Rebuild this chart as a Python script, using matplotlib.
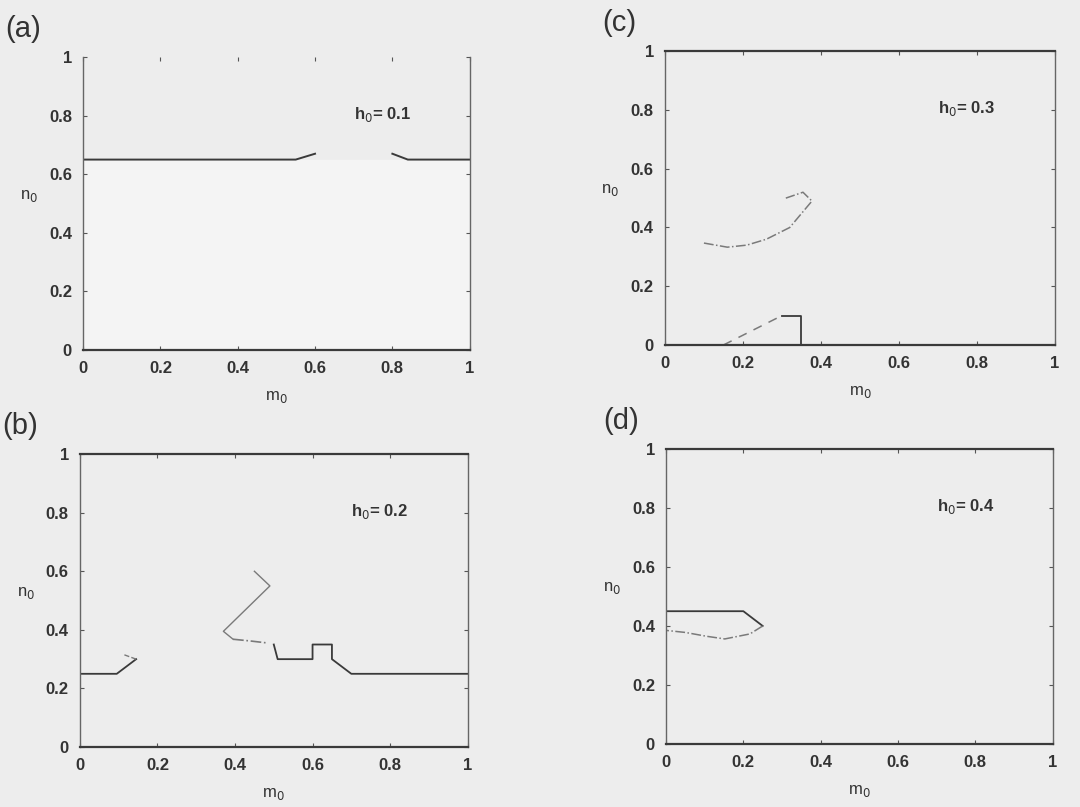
import matplotlib.pyplot as plt

plt.rcParams['font.family'] = ['Liberation Sans', 'DejaVu Sans']

# (a) h0 = 0.1
a_left_m = [0.0, 0.55, 0.60]
a_left_n = [0.65, 0.65, 0.67]
a_right_m = [0.80, 0.84, 1.0]
a_right_n = [0.67, 0.65, 0.65]

# (b) h0 = 0.2
b_left_m = [0.0, 0.095, 0.145]
b_left_n = [0.25, 0.25, 0.30]
b_left_tip_m = [0.145, 0.11]
b_left_tip_n = [0.30, 0.317]
b_zig_m = [0.45, 0.49, 0.37, 0.395]
b_zig_n = [0.60, 0.55, 0.395, 0.368]
b_dash_m = [0.395, 0.44, 0.485]
b_dash_n = [0.368, 0.362, 0.355]
b_step_m = [0.50, 0.51, 0.60, 0.60, 0.65, 0.65, 0.70, 1.0]
b_step_n = [0.35, 0.30, 0.30, 0.35, 0.35, 0.30, 0.25, 0.25]

# (c) h0 = 0.3
c_curve_m = [0.10, 0.16, 0.21, 0.26, 0.32, 0.377, 0.354, 0.31]
c_curve_n = [0.347, 0.333, 0.34, 0.36, 0.40, 0.49, 0.52, 0.50]
c_dash_m = [0.15, 0.30]
c_dash_n = [0.0, 0.10]
c_box_m = [0.30, 0.35, 0.35]
c_box_n = [0.10, 0.10, 0.0]

# (d) h0 = 0.4
d_top_m = [0.0, 0.20, 0.25]
d_top_n = [0.45, 0.45, 0.40]
d_low_m = [0.25, 0.217, 0.152, 0.105, 0.05, 0.0]
d_low_n = [0.40, 0.373, 0.356, 0.365, 0.378, 0.385]

ticks = [0, 0.2, 0.4, 0.6, 0.8, 1]
tick_labels = ['0', '0.2', '0.4', '0.6', '0.8', '1']

bg = '#ededed'
solid = '#3a3a3a'
faint = '#7a7a7a'

fig = plt.figure(figsize=(10.8, 8.07), dpi=100, facecolor=bg)

axes_pos = {
    'a': [0.0769, 0.5663, 0.358, 0.363],
    'c': [0.6157, 0.5725, 0.361, 0.364],
    'b': [0.0740, 0.0743, 0.359, 0.363],
    'd': [0.6167, 0.0781, 0.358, 0.3656],
}
h_labels = {'a': 'h$_0$= 0.1', 'b': 'h$_0$= 0.2', 'c': 'h$_0$= 0.3', 'd': 'h$_0$= 0.4'}

axs = {}
for key, pos in axes_pos.items():
    ax = fig.add_axes(pos)
    ax.set_facecolor(bg)
    ax.set_xlim(0, 1)
    ax.set_ylim(0, 1)
    ax.set_xticks(ticks)
    ax.set_yticks(ticks)
    ax.set_xticklabels(tick_labels)
    ax.set_yticklabels(tick_labels)
    ax.tick_params(direction='in', length=3, width=0.8, colors='#555555',
                   top=True, right=True, labelsize=12, pad=8)
    for lab in ax.get_xticklabels() + ax.get_yticklabels():
        lab.set_fontweight('bold')
        lab.set_color('#333333')
    for side in ['top', 'bottom']:
        ax.spines[side].set_linewidth(1.6)
        ax.spines[side].set_color(solid)
    for side in ['left', 'right']:
        ax.spines[side].set_linewidth(1.0)
        ax.spines[side].set_color('#666666')
    ax.set_xlabel('m$_0$', fontsize=12, color='#333333', labelpad=9)
    ax.set_ylabel('n$_0$', fontsize=12, color='#333333', rotation=0)
    ax.yaxis.set_label_coords(-0.14, 0.5)
    ax.text(0.70, 0.79, h_labels[key], fontsize=12, fontweight='bold',
            color='#333333', transform=ax.transAxes)
    fig.text(pos[0] - 0.072 if key in 'ab' else pos[0] - 0.058, pos[1] + pos[3] + 0.035,
             f'({key})', fontsize=21, color='#333333', va='center')
    axs[key] = ax

# panel a
ax = axs['a']
ax.spines['top'].set_visible(False)
ax.fill_between(a_left_m[:2] + a_right_m[1:], 0, 0.65, color='#f4f4f4', zorder=0)
ax.plot(a_left_m, a_left_n, color=solid, lw=1.4)
ax.plot(a_right_m, a_right_n, color=solid, lw=1.4)

# panel b
ax = axs['b']
ax.plot(b_left_m, b_left_n, color=solid, lw=1.3)
ax.plot(b_left_tip_m, b_left_tip_n, color=faint, lw=1.0, ls='--')
ax.plot(b_zig_m, b_zig_n, color=faint, lw=1.0)
ax.plot(b_dash_m, b_dash_n, color=faint, lw=1.2, ls='-.')
ax.plot(b_step_m, b_step_n, color=solid, lw=1.3)

# panel c
ax = axs['c']
ax.plot(c_curve_m, c_curve_n, color=faint, lw=1.1, ls='-.')
ax.plot(c_dash_m, c_dash_n, color=faint, lw=1.1, ls=(0, (6, 5)))
ax.plot(c_box_m, c_box_n, color=solid, lw=1.3)

# panel d
ax = axs['d']
ax.plot(d_top_m, d_top_n, color=solid, lw=1.3)
ax.plot(d_low_m, d_low_n, color=faint, lw=1.1, ls='-.')

fig.savefig('out.png', dpi=100, facecolor=bg)
